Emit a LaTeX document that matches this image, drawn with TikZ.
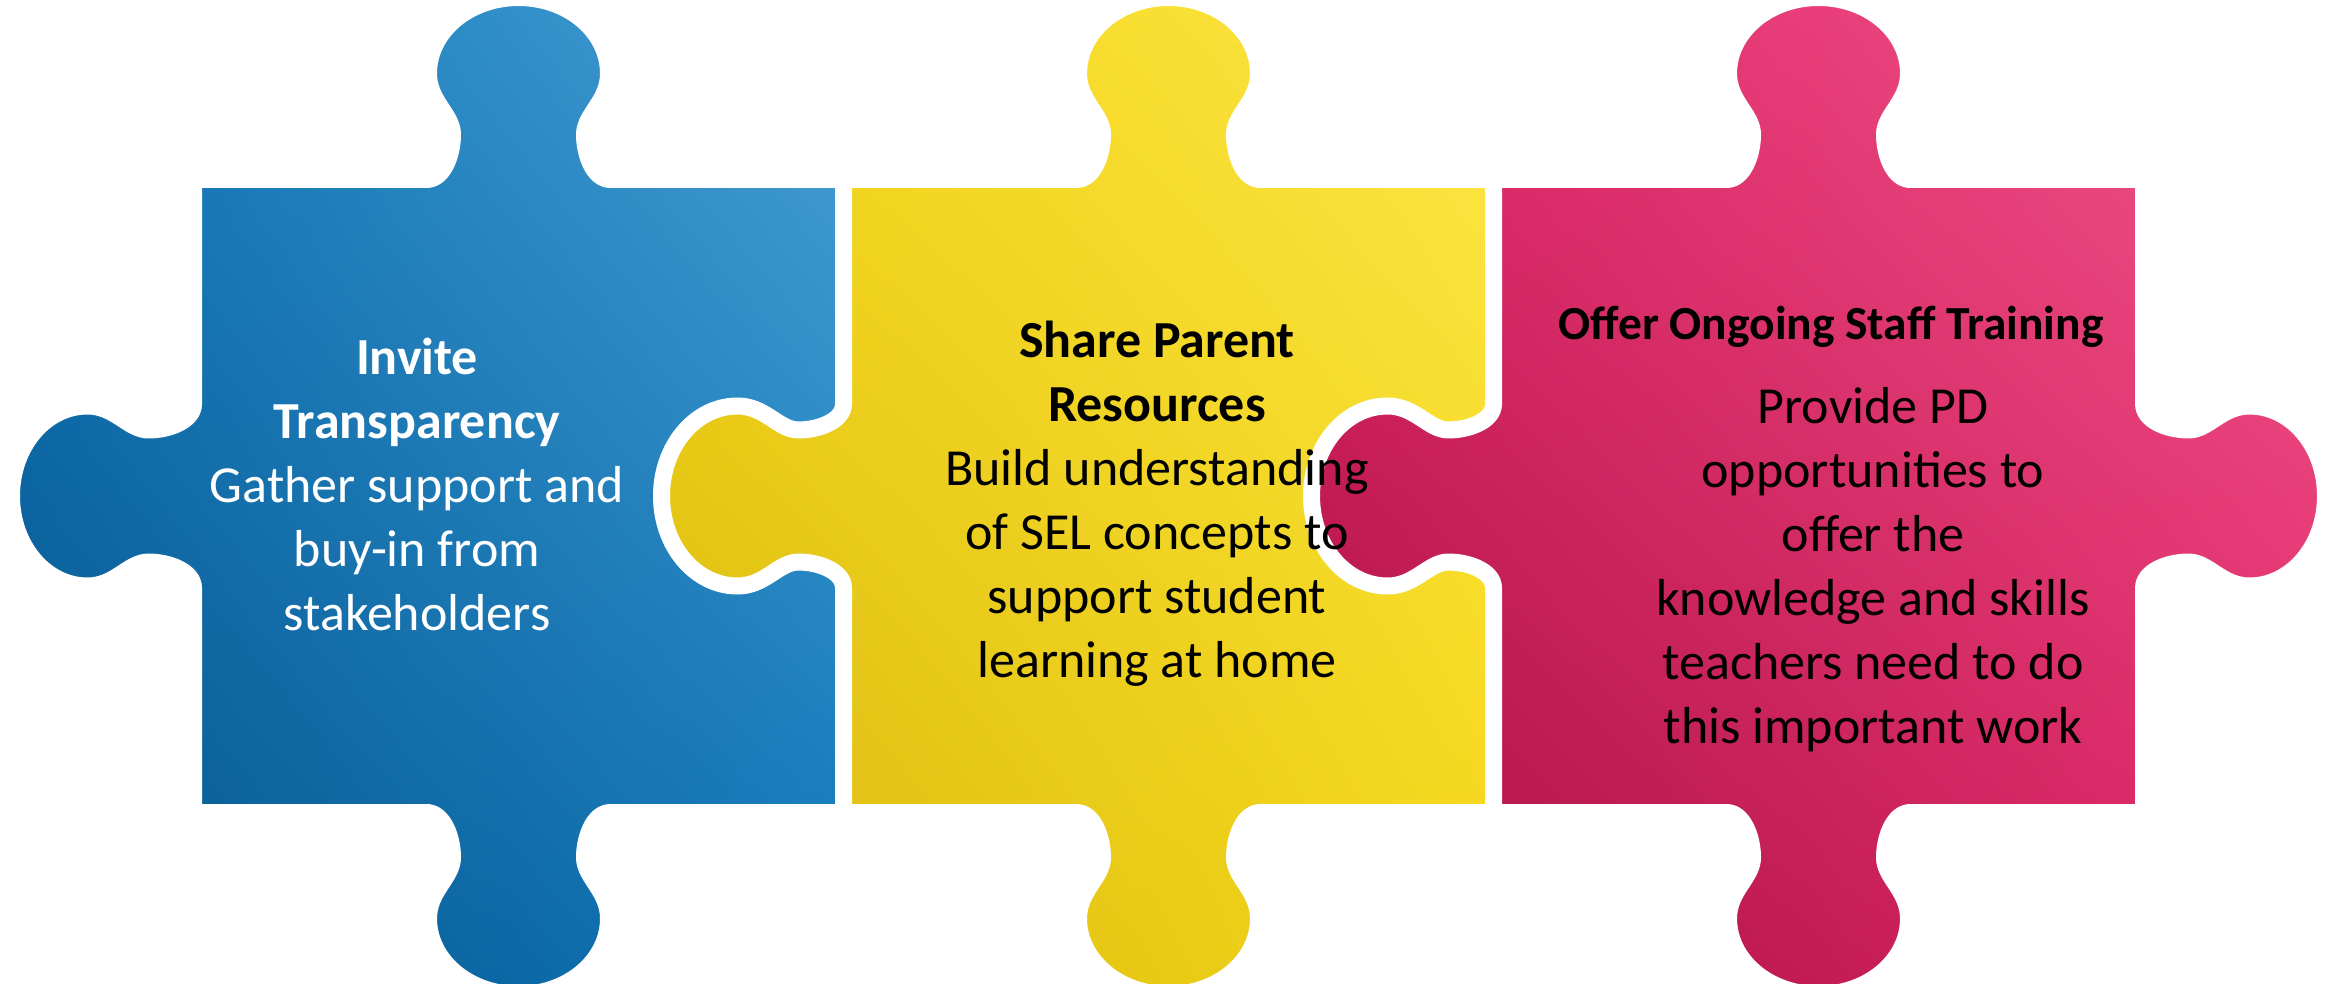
\documentclass[tikz,border=0pt]{standalone}
\usepackage{fontspec}
\setmainfont{Carlito}
\usetikzlibrary{shadings}

\definecolor{blueLight}{RGB}{74,160,212}
\definecolor{blueMid}{RGB}{14,118,184}
\definecolor{blueDark}{RGB}{8,82,136}
\definecolor{yellowLight}{RGB}{253,230,72}
\definecolor{yellowMid}{RGB}{244,214,22}
\definecolor{yellowDark}{RGB}{214,182,18}
\definecolor{pinkLight}{RGB}{240,88,140}
\definecolor{pinkMid}{RGB}{224,38,104}
\definecolor{pinkDark}{RGB}{164,16,64}

\tikzset{
  puzzle piece/.style={draw=white, line width=12.75pt, line join=round},
  blue piece/.style={puzzle piece, upper right=blueLight, lower left=blueDark, upper left=blueMid, lower right=blueMid},
  yellow piece/.style={puzzle piece, upper right=yellowLight, lower left=yellowDark, upper left=yellowMid, lower right=yellowMid},
  pink piece/.style={puzzle piece, upper right=pinkLight, lower left=pinkDark, upper left=pinkMid, lower right=pinkMid},
  piece text/.style={align=center, inner sep=0pt, anchor=base, font=\fontsize{39pt}{48pt}\selectfont},
}

% outline of one piece: body 650 x 633, tabs on top, bottom and left; #1 = right side
\newcommand{\piecepath}[1]{(0,0) -- (233,0) .. controls (250,0) and (259,-25) .. (259,-45) .. controls (259,-65) and (235,-78) .. (235,-106) .. controls (235,-148) and (275,-182) .. (325,-182) .. controls (375,-182) and (415,-148) .. (415,-106) .. controls (415,-78) and (391,-65) .. (391,-45) .. controls (391,-25) and (400,0) .. (417,0) -- (650,0) #1 -- (650,633) -- (417,633) .. controls (400,633) and (391,658) .. (391,678) .. controls (391,698) and (415,711) .. (415,739) .. controls (415,781) and (375,815) .. (325,815) .. controls (275,815) and (235,781) .. (235,739) .. controls (235,711) and (259,698) .. (259,678) .. controls (259,658) and (250,633) .. (233,633) -- (0,633) -- (0,408.5) .. controls (0,391.5) and (-25,382.5) .. (-45,382.5) .. controls (-65,382.5) and (-78,406.5) .. (-106,406.5) .. controls (-148,406.5) and (-182,366.5) .. (-182,316.5) .. controls (-182,266.5) and (-148,226.5) .. (-106,226.5) .. controls (-78,226.5) and (-65,250.5) .. (-45,250.5) .. controls (-25,250.5) and (0,241.5) .. (0,224.5) -- cycle}
\newcommand{\righttab}{-- (650,224.5) .. controls (650,241.5) and (675,250.5) .. (695,250.5) .. controls (715,250.5) and (728,226.5) .. (756,226.5) .. controls (798,226.5) and (832,266.5) .. (832,316.5) .. controls (832,366.5) and (798,406.5) .. (756,406.5) .. controls (728,406.5) and (715,382.5) .. (695,382.5) .. controls (675,382.5) and (650,391.5) .. (650,408.5)}

\begin{document}
\begin{tikzpicture}[x=0.75pt,y=0.75pt,yscale=-1,xscale=1]
\useasboundingbox (0,0) rectangle (2336,984);

%Shape: blue piece
\begin{scope}[shift={(193.5,179.5)}]
\shadedraw[blue piece] \piecepath{};
\end{scope}
%Shape: yellow piece
\begin{scope}[shift={(843.5,179.5)}]
\shadedraw[yellow piece] \piecepath{};
\end{scope}
%Shape: pink piece
\begin{scope}[shift={(1493.5,179.5)}]
\shadedraw[pink piece] \piecepath{\righttab};
\end{scope}

%Text nodes (base = last line)
\node[piece text, text=white] (transparency) at (417,630) {\textbf{Invite}\\\textbf{Transparency}\\Gather support and\\buy-in from\\stakeholders};
\node[piece text] (resources) at (1157,677) {\textbf{Share Parent}\\\textbf{Resources}\\Build understanding\\of SEL concepts to\\support student\\learning at home};
\node[piece text, font=\fontsize{35.6pt}{42pt}\selectfont\bfseries] (training) at (1831,339) {Offer Ongoing Staff Training};
\node[piece text] (provide) at (1873,743) {Provide PD\\opportunities to\\offer the\\knowledge and skills\\teachers need to do\\this important work};

\end{tikzpicture}
\end{document}
